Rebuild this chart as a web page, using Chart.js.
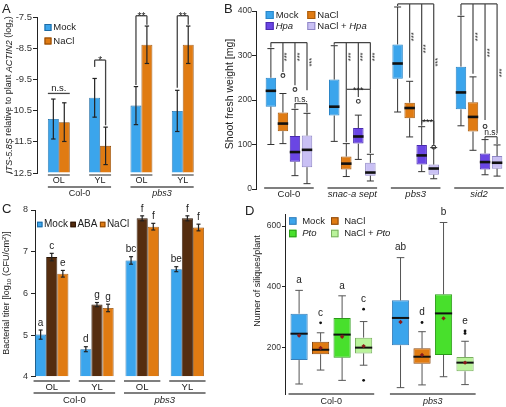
<!DOCTYPE html>
<html>
<head>
<meta charset="utf-8">
<script src="https://cdn.jsdelivr.net/npm/chart.js@4.4.1/dist/chart.umd.min.js"></script>
<style>
  html, body { margin: 0; padding: 0; background: #fff; width: 506px; height: 407px; overflow: hidden; }
  .panel { position: absolute; }
</style>
</head>
<body>
<div class="panel" style="left:0;top:0"><canvas id="chartA" width="222" height="200"></canvas></div>
<div class="panel" style="left:222px;top:0"><canvas id="chartB" width="290" height="200"></canvas></div>
<div class="panel" style="left:0;top:200px"><canvas id="chartC" width="244" height="207"></canvas></div>
<div class="panel" style="left:244px;top:200px"><canvas id="chartD" width="262" height="207"></canvas></div>
<script>
// ── Data: panel A (ITS-5.8S relative to ACTIN2, log2) ────────────────────────
const leafA    = ['OL', 'YL', 'OL', 'YL'];
const genoA    = ['Col-0', 'pbs3'];
const genoOfA  = [0, 0, 1, 1];
const mockA    = [-10.77, -10.09, -10.34, -10.51];
const mockErrA = [0.64, 0.62, 0.61, 0.66];
const naclA    = [-10.87, -11.63, -8.39, -8.39];
const naclErrA = [0.62, 0.60, 0.60, 0.60];
const ticksA   = [-12.5, -11.5, -10.5, -9.5, -8.5, -7.5];
// group, bracket height, left leg end, right leg end, label
const sigA = [
  [0, -9.95, null, null, 'n.s.'],
  [1, -8.88, -9.10, -10.97, '*'],
  [2, -7.46, -9.68, -7.75, '**'],
  [3, -7.46, -9.77, -7.75, '**'],
];

// ── Data: panel B (shoot fresh weight, mg) ── series: Mock, NaCl, Hpa, NaCl+Hpa
const groupsB = ['Col-0', 'snac-a sept', 'pbs3', 'sid2'];
const bQ1  = [[185, 165, 247.5, 179], [130, 44, 159, 129], [61, 102, 55, 44], [49, 30, 32, 45.6]];
const bQ3  = [[250, 246, 325, 275], [172, 73, 194, 195], [119, 137, 99, 80], [120, 59, 55, 74]];
const bMed = [[220.6, 185, 282, 217], [147, 57, 182, 162], [83, 118, 75.5, 60.5], [88, 37, 46, 59]];
const bLo  = [[100, 107, 173, 142], [102, 28, 117, 87], [30, 66.5, 39, 32], [12, 18, 23, 29]];
const bHi  = [[315.5, 322, 409, 388], [214.6, 102, 242, 252], [179, 166, 140, 111], [170, 78, 93, 99]];
const bOut = [[[], [], [], []], [[255], [], [], []], [[223.6], [197], [], [140.6]], [[], [], [94], []]];
const ticksB = [0, 100, 200, 300, 400];
// comb brackets from Mock to the other treatments, per genotype
const combTopB  = [329, 329, 416, 416];
const combEndB  = [[318, 263, 233, 222], [324, 224, 207, 224], [411, 250, 147, 102], [390, 259, 155, 125]];
const combStarB = [[297, 297, 285], [297, 297, 297], [342, 315, 285], [342, 306, 261]];
// group, series a, series b, bracket height, left leg end, right leg end, label
const sigB = [
  [0, 2, 3, 192, 181, 172, 'n.s.'],
  [1, 1, 3, 224, 105, 81, '***'],
  [2, 2, 3, 153.5, 142, 97, '***'],
  [3, 2, 3, 117.5, 113, 101, 'n.s.'],
];

// ── Data: panel C (bacterial titer, log10 CFU/cm2) ───────────────────────────
const leafC    = ['OL', 'YL', 'OL', 'YL'];
const genoC    = ['Col-0', 'pbs3'];
const genoOfC  = [0, 0, 1, 1];
const mockC    = [5.01, 4.66, 6.79, 6.58];
const mockErrC = [0.11, 0.06, 0.09, 0.06];
const abaC     = [6.87, 5.73, 7.80, 7.80];
const abaErrC  = [0.09, 0.05, 0.06, 0.06];
const naclC    = [6.47, 5.65, 7.60, 7.58];
const naclErrC = [0.08, 0.09, 0.08, 0.08];
const lettersC = [['a', 'd', 'bc', 'be'], ['c', 'g', 'f', 'f'], ['e', 'g', 'f', 'f']];
const ticksC   = [4, 5, 6, 7, 8];

// ── Data: panel D (siliques per plant) ── series: Mock, NaCl, Pto, NaCl+Pto ──
const groupsD  = ['Col-0', 'pbs3'];
const dQ1   = [[158, 206.6], [177, 146], [166, 175], [180, 121]];
const dQ3   = [[311, 355], [218.7, 196.7], [297, 375], [232, 168]];
const dMed  = [[245, 297], [192, 169], [242, 312], [199, 149.5]];
const dLo   = [[79, 67], [125, 76], [91, 103], [141, 77]];
const dHi   = [[388, 496], [248, 251.6], [370, 612], [285, 220]];
const dMean = [[238.5, 283.5], [198, 175], [235, 295.6], [204, 149.5]];
const dOut  = [[[], []], [[281], [282]], [[], []], [[326, 91], [254, 246]]];
const lettersD = [['a', 'ab'], ['c', 'd'], ['a', 'b'], ['c', 'e']];
const ticksD = [200, 400, 600];

// ── Styling ──────────────────────────────────────────────────────────────────
const FONT = '"Liberation Sans", Arial, Helvetica, sans-serif';
const INK = '#222';
const BLUE = '#3ba5ec', ORANGE = '#e07b12', BROWN = '#552d0f';
const PURPLE = '#6a46e4', LAVENDER = '#c9c0f4', GREEN = '#48e02c', LIGHTGREEN = '#baf39b';
Chart.defaults.font.family = FONT;

const font = (size, italic) => (italic ? 'italic ' : '') + size + 'px ' + FONT;

function line(ctx, x1, y1, x2, y2) {
  ctx.beginPath(); ctx.moveTo(x1, y1); ctx.lineTo(x2, y2); ctx.stroke();
}

// text made of segments {t, i (italic), sub, sup}
function txt(ctx, segs, x, y, size, o = {}) {
  if (typeof segs === 'string') segs = [{ t: segs, i: o.italic }];
  ctx.save();
  ctx.translate(x, y);
  if (o.rot) ctx.rotate(o.rot);
  ctx.fillStyle = o.color || INK;
  ctx.textBaseline = o.base || 'middle';
  ctx.textAlign = 'left';
  const fs = s => (s.sub || s.sup) ? size * 0.68 : size;
  const w = segs.map(s => { ctx.font = font(fs(s), s.i); return ctx.measureText(s.t).width; });
  const total = w.reduce((a, b) => a + b, 0);
  let cx = o.align === 'left' ? 0 : o.align === 'right' ? -total : -total / 2;
  segs.forEach((s, k) => {
    ctx.font = font(fs(s), s.i);
    ctx.fillText(s.t, cx, s.sub ? size * 0.3 : s.sup ? -size * 0.35 : 0);
    cx += w[k];
  });
  ctx.restore();
  return total;
}

function legend(ctx, items, x0, y0, o) {
  let x = x0;
  items.forEach((it, k) => {
    const col = k % o.cols, row = Math.floor(k / o.cols);
    if (o.dx) x = x0 + col * o.dx;
    const y = y0 + row * (o.dy || 0);
    ctx.fillStyle = it.fill;
    ctx.fillRect(x, y - o.sq / 2, o.sq, o.sq);
    ctx.strokeStyle = it.stroke; ctx.lineWidth = 1;
    ctx.strokeRect(x + 0.5, y - o.sq / 2 + 0.5, o.sq - 1, o.sq - 1);
    const w = txt(ctx, it.segs, x + o.sq + o.gap, y, o.size, { align: 'left' });
    if (!o.dx) x += o.sq + o.gap + w + 2.5;
  });
}

const membersOf = (names, of) => names.map((_, g) => of.reduce((acc, v, i) => (v === g ? acc.concat(i) : acc), []));
const singles = n => Array.from({ length: n }, (_, i) => [i]);

// underlined category labels below the plot
function tiers(chart, list) {
  const ctx = chart.ctx, n = chart.data.datasets.length;
  const first = chart.getDatasetMeta(0).data, last = chart.getDatasetMeta(n - 1).data;
  list.forEach(t => {
    t.names.forEach((name, k) => {
      const idx = t.members[k], a = first[idx[0]], b = last[idx[idx.length - 1]];
      const x0 = a.x - a.width / 2 - t.ext, x1 = b.x + b.width / 2 + t.ext;
      ctx.strokeStyle = '#555'; ctx.lineWidth = 1.3;
      line(ctx, x0, t.line, x1, t.line);
      txt(ctx, name, (x0 + x1) / 2, t.text, t.size, { italic: name !== 'Col-0' && !t.plain });
    });
  });
}

function errBars(chart, d, vals, errs, cap) {
  const ctx = chart.ctx, ys = chart.scales.y;
  ctx.strokeStyle = INK; ctx.lineWidth = 1.2;
  chart.getDatasetMeta(d).data.forEach((el, i) => {
    const t = ys.getPixelForValue(vals[i] + errs[i]), b = ys.getPixelForValue(vals[i] - errs[i]);
    line(ctx, el.x, t, el.x, b);
    line(ctx, el.x - cap, t, el.x + cap, t);
    line(ctx, el.x - cap, b, el.x + cap, b);
  });
}

function boxExtras(chart, st, sty) {
  const ctx = chart.ctx, P = v => chart.scales.y.getPixelForValue(v);
  st.lo.forEach((row, s) => {
    const bars = chart.getDatasetMeta(s).data;
    row.forEach((lo, i) => {
      const x = bars[i].x, hw = bars[i].width / 2, hi = st.hi[s][i];
      ctx.strokeStyle = sty.whisker; ctx.lineWidth = 1;
      line(ctx, x, P(hi), x, P(st.q3[s][i]));
      line(ctx, x, P(lo), x, P(st.q1[s][i]));
      line(ctx, x - sty.cap, P(hi), x + sty.cap, P(hi));
      line(ctx, x - sty.cap, P(lo), x + sty.cap, P(lo));
      ctx.strokeStyle = '#111'; ctx.lineWidth = sty.medW;
      line(ctx, x - hw, P(st.med[s][i]), x + hw, P(st.med[s][i]));
      st.out[s][i].forEach(v => {
        ctx.beginPath();
        ctx.arc(x, P(v), sty.openOut ? 1.9 : 1.4, 0, Math.PI * 2);
        if (sty.openOut) { ctx.strokeStyle = '#333'; ctx.lineWidth = 1.1; ctx.stroke(); }
        else { ctx.fillStyle = '#111'; ctx.fill(); }
      });
      if (st.mean) {
        const my = P(st.mean[s][i]);
        ctx.fillStyle = '#8b1a1a';
        ctx.beginPath();
        ctx.moveTo(x, my - 2.2); ctx.lineTo(x + 2.2, my); ctx.lineTo(x, my + 2.2); ctx.lineTo(x - 2.2, my);
        ctx.closePath(); ctx.fill();
      }
    });
  });
}

function yAxis(min, max, ticks, width, size, tl, pad, fmt) {
  return {
    min, max,
    afterBuildTicks: s => { s.ticks = ticks.map(v => ({ value: v })); },
    afterFit: s => { s.width = width; s.paddingTop = 0; s.paddingBottom = 0; },
    border: { display: true, color: INK, width: 1 },
    grid: { display: true, drawOnChartArea: false, drawTicks: true, tickLength: tl, color: INK, lineWidth: 1 },
    ticks: { padding: pad, color: '#333', autoSkip: false, font: { family: FONT, size }, callback: fmt || (v => String(v)) },
  };
}

function xAxis(min, max, n) {
  return {
    type: 'linear', display: false, offset: false, min, max,
    afterBuildTicks: s => { s.ticks = singles(n).map(([i]) => ({ value: i })); },
  };
}

const common = {
  responsive: false, animation: false, events: [],
  plugins: { legend: { display: false }, tooltip: { enabled: false } },
};

const pts = vals => vals.map((v, i) => ({ x: i, y: v }));
const boxes = (q1, q3, i) => q1[i].map((v, k) => ({ x: k, y: [v, q3[i][k]] }));

// ── Panel A ──────────────────────────────────────────────────────────────────
new Chart(document.getElementById('chartA'), {
  type: 'bar',
  data: {
    datasets: [
      { data: pts(mockA), base: -12.5, backgroundColor: BLUE, borderColor: '#1e6aa3', borderWidth: 0.8, categoryPercentage: 0.53, barPercentage: 1 },
      { data: pts(naclA), base: -12.5, backgroundColor: ORANGE, borderColor: '#8a4706', borderWidth: 0.8, categoryPercentage: 0.53, barPercentage: 1 },
    ],
  },
  options: {
    ...common,
    layout: { padding: { left: 0, top: 17, right: 18.6, bottom: 27 } },
    scales: {
      x: xAxis(-0.528, 3.5, leafA.length),
      y: yAxis(-12.5, -7.5, ticksA, 37, 9.5, 4, 1, v => v.toFixed(1)),
    },
  },
  plugins: [{
    id: 'extrasA',
    afterDatasetsDraw(chart) {
      errBars(chart, 0, mockA, mockErrA, 2.2);
      errBars(chart, 1, naclA, naclErrA, 2.2);
    },
    afterDraw(chart) {
      const ctx = chart.ctx, P = v => chart.scales.y.getPixelForValue(v);
      const m = chart.getDatasetMeta(0).data, n = chart.getDatasetMeta(1).data;
      txt(ctx, 'A', 2, 12.5, 13, { align: 'left', base: 'alphabetic' });
      txt(ctx, [{ t: 'ITS-5.8S', i: true }, { t: ' relative to plant ' }, { t: 'ACTIN2', i: true }, { t: ' (log' }, { t: '2', sub: true }, { t: ')' }],
        9, 95, 9, { rot: -Math.PI / 2 });
      legend(ctx, [
        { fill: BLUE, stroke: '#1e6aa3', segs: 'Mock' },
        { fill: ORANGE, stroke: '#8a4706', segs: 'NaCl' },
      ], 44.5, 27.5, { cols: 1, dx: 1, dy: 13.5, sq: 7, gap: 1.8, size: 9.5 });
      ctx.strokeStyle = '#444'; ctx.lineWidth = 1.3;
      sigA.forEach(([g, top, l, r, label]) => {
        const a = m[g], b = n[g], yT = P(top);
        if (l === null) line(ctx, a.x - a.width / 2, yT, b.x + b.width / 2, yT);
        else { line(ctx, a.x, P(l), a.x, yT); line(ctx, a.x, yT, b.x, yT); line(ctx, b.x, yT, b.x, P(r)); }
        const star = label.includes('*');
        txt(ctx, label, (a.x + b.x) / 2, star ? yT + 4 : yT - 2.5, star ? 10 : 9.5, { base: 'alphabetic' });
      });
      tiers(chart, [
        { names: leafA, members: singles(leafA.length), line: 175, text: 180.5, ext: 0, size: 9, plain: true },
        { names: genoA, members: membersOf(genoA, genoOfA), line: 187, text: 193.5, ext: 0, size: 9 },
      ]);
    },
  }],
});

// ── Panel B ──────────────────────────────────────────────────────────────────
const fillB = [BLUE, ORANGE, PURPLE, LAVENDER];
const edgeB = ['#2a86c8', '#a85a0a', '#4a2ab0', '#8f86c6'];
new Chart(document.getElementById('chartB'), {
  type: 'bar',
  data: {
    datasets: fillB.map((c, s) => ({
      data: boxes(bQ1, bQ3, s), backgroundColor: c, borderColor: edgeB[s], borderWidth: 1,
      borderSkipped: false, categoryPercentage: 0.76, barPercentage: 0.87,
    })),
  },
  options: {
    ...common,
    layout: { padding: { left: 0, top: 11, right: 1.3, bottom: 11 } },
    scales: {
      x: xAxis(-0.52, 3.5, groupsB.length),
      y: yAxis(0, 400, ticksB, 34, 8.5, 4, 0),
    },
  },
  plugins: [{
    id: 'extrasB',
    afterDatasetsDraw(chart) {
      boxExtras(chart, { q1: bQ1, q3: bQ3, med: bMed, lo: bLo, hi: bHi, out: bOut }, { whisker: '#333', cap: 3.5, medW: 2.6, openOut: true });
    },
    afterDraw(chart) {
      const ctx = chart.ctx, P = v => chart.scales.y.getPixelForValue(v);
      const X = (s, g) => chart.getDatasetMeta(s).data[g].x;
      txt(ctx, 'B', 2, 12.5, 13, { align: 'left', base: 'alphabetic' });
      txt(ctx, 'Shoot fresh weight [mg]', 8, 94, 10.5, { rot: -Math.PI / 2 });
      legend(ctx, [
        { fill: BLUE, stroke: edgeB[0], segs: 'Mock' },
        { fill: ORANGE, stroke: edgeB[1], segs: 'NaCl' },
        { fill: PURPLE, stroke: edgeB[2], segs: [{ t: 'Hpa', i: true }] },
        { fill: LAVENDER, stroke: edgeB[3], segs: [{ t: 'NaCl + ' }, { t: 'Hpa', i: true }] },
      ], 43.7, 15, { cols: 2, dx: 41.6, dy: 11, sq: 8, gap: 2, size: 9.5 });
      ctx.strokeStyle = '#444'; ctx.lineWidth = 1.2;
      combTopB.forEach((top, g) => {
        const yT = P(top);
        line(ctx, X(0, g), yT, X(3, g), yT);
        combEndB[g].forEach((end, s) => line(ctx, X(s, g), yT, X(s, g), P(end)));
        combStarB[g].forEach((sv, k) => txt(ctx, '***', X(k + 1, g) + 4.5, P(sv), 7.5, { rot: -Math.PI / 2 }));
      });
      sigB.forEach(([g, a, b, top, l, r, label]) => {
        const xa = X(a, g), xb = X(b, g), yT = P(top);
        line(ctx, xa, P(l), xa, yT); line(ctx, xa, yT, xb, yT); line(ctx, xb, yT, xb, P(r));
        const star = label.includes('*');
        txt(ctx, label, (xa + xb) / 2, star ? yT + 4 : yT - 2, star ? 9 : 8.5, { base: 'alphabetic' });
      });
      tiers(chart, [
        { names: groupsB, members: singles(groupsB.length), line: 188, text: 194.5, ext: 1.5, size: 9.5 },
      ]);
    },
  }],
});

// ── Panel C ──────────────────────────────────────────────────────────────────
const valsC = [mockC, abaC, naclC], errsC = [mockErrC, abaErrC, naclErrC];
const fillC = [BLUE, BROWN, ORANGE], edgeC = ['#1e6aa3', '#2a1405', '#8a4706'];
new Chart(document.getElementById('chartC'), {
  type: 'bar',
  data: {
    datasets: valsC.map((v, s) => ({
      data: pts(v), base: 4, backgroundColor: fillC[s], borderColor: edgeC[s], borderWidth: 0.8,
      categoryPercentage: 0.737, barPercentage: 1,
    })),
  },
  options: {
    ...common,
    layout: { padding: { left: 0, top: 10, right: 34, bottom: 30.3 } },
    scales: {
      x: xAxis(-0.37, 3.5, leafC.length),
      y: yAxis(4, 8, ticksC, 35, 9, 4, 3),
    },
  },
  plugins: [{
    id: 'extrasC',
    afterDatasetsDraw(chart) {
      valsC.forEach((v, s) => errBars(chart, s, v, errsC[s], 2));
    },
    afterDraw(chart) {
      const ctx = chart.ctx, P = v => chart.scales.y.getPixelForValue(v);
      txt(ctx, 'C', 2, 13, 13, { align: 'left', base: 'alphabetic' });
      txt(ctx, [{ t: 'Bacterial titer [log' }, { t: '10', sub: true }, { t: ' (CFU/cm' }, { t: '2', sup: true }, { t: ')]' }],
        7, 93, 9, { rot: -Math.PI / 2 });
      legend(ctx, [
        { fill: BLUE, stroke: edgeC[0], segs: 'Mock' },
        { fill: BROWN, stroke: edgeC[1], segs: 'ABA' },
        { fill: ORANGE, stroke: edgeC[2], segs: 'NaCl' },
      ], 37, 24.5, { cols: 3, sq: 5.5, gap: 1.5, size: 10 });
      lettersC.forEach((row, s) => {
        const bars = chart.getDatasetMeta(s).data;
        row.forEach((l, i) => txt(ctx, l, bars[i].x, P(valsC[s][i] + errsC[s][i]) - 7, 10));
      });
      tiers(chart, [
        { names: leafC, members: singles(leafC.length), line: 181, text: 187.5, ext: 1.5, size: 9.5, plain: true },
        { names: genoC, members: membersOf(genoC, genoOfC), line: 193, text: 200, ext: 1.5, size: 9.5 },
      ]);
    },
  }],
});

// ── Panel D ──────────────────────────────────────────────────────────────────
const fillD = [BLUE, ORANGE, GREEN, LIGHTGREEN];
const edgeD = ['#3a7fb8', '#8a4a10', '#2a9a18', '#7ab060'];
new Chart(document.getElementById('chartD'), {
  type: 'bar',
  data: {
    datasets: fillD.map((c, s) => ({
      data: boxes(dQ1, dQ3, s), backgroundColor: c, borderColor: edgeD[s], borderWidth: 1,
      borderSkipped: false, categoryPercentage: 0.848, barPercentage: 0.8,
    })),
  },
  options: {
    ...common,
    layout: { padding: { left: 0, top: 14, right: 22.5, bottom: 13 } },
    scales: {
      x: xAxis(-0.457, 1.5, groupsD.length),
      y: yAxis(46, 640, ticksD, 41, 8.5, 3, 1),
    },
  },
  plugins: [{
    id: 'extrasD',
    afterDatasetsDraw(chart) {
      boxExtras(chart, { q1: dQ1, q3: dQ3, med: dMed, lo: dLo, hi: dHi, out: dOut, mean: dMean }, { whisker: '#555', cap: 3.8, medW: 2, openOut: false });
    },
    afterDraw(chart) {
      const ctx = chart.ctx, P = v => chart.scales.y.getPixelForValue(v);
      txt(ctx, 'D', 1, 15, 13, { align: 'left', base: 'alphabetic' });
      txt(ctx, 'Numer of siliques/plant', 14, 81, 9, { rot: -Math.PI / 2 });
      legend(ctx, [
        { fill: BLUE, stroke: edgeD[0], segs: 'Mock' },
        { fill: ORANGE, stroke: edgeD[1], segs: 'NaCl' },
        { fill: GREEN, stroke: edgeD[2], segs: [{ t: 'Pto', i: true }] },
        { fill: LIGHTGREEN, stroke: edgeD[3], segs: [{ t: 'NaCl + ' }, { t: 'Pto', i: true }] },
      ], 45, 21, { cols: 2, dx: 42, dy: 12.5, sq: 7.5, gap: 5.7, size: 9.5 });
      lettersD.forEach((row, s) => {
        const bars = chart.getDatasetMeta(s).data;
        row.forEach((l, i) => {
          const top = Math.max(dHi[s][i], ...dOut[s][i]);
          txt(ctx, l, bars[i].x, P(top) - 10, 10);
        });
      });
      tiers(chart, [
        { names: groupsD, members: singles(groupsD.length), line: 194, text: 201.7, ext: 2, size: 9 },
      ]);
    },
  }],
});
</script>
</body>
</html>
